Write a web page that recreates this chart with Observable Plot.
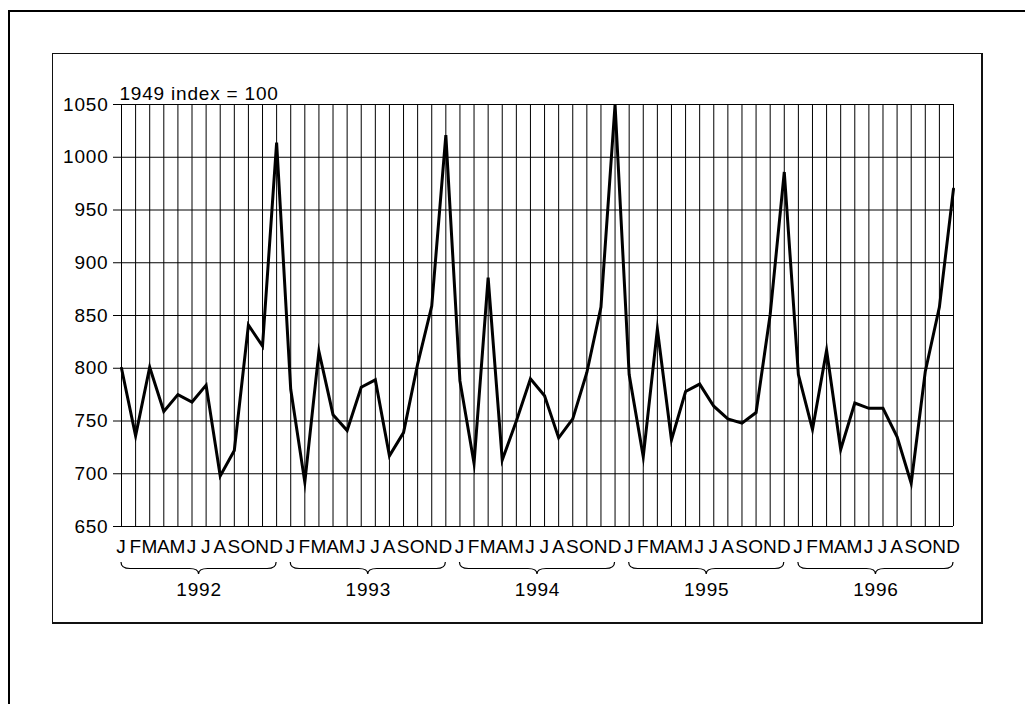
<!DOCTYPE html>
<html>
<head>
<meta charset="utf-8">
<script src="https://cdn.jsdelivr.net/npm/d3@7"></script>
<script src="https://cdn.jsdelivr.net/npm/@observablehq/plot@0.6"></script>
<style>
  html, body { margin: 0; padding: 0; width: 1025px; height: 704px; overflow: hidden; background: #fff; }
  #outer { position: absolute; left: 8px; top: 10px; width: 1100px; height: 800px; border: 2px solid #000; box-sizing: border-box; z-index: 2; pointer-events: none; }
  #inner { position: absolute; left: 52px; top: 53px; width: 931px; height: 571px; border-style: solid; border-color: #111; border-width: 1px 2px 2px 1px; box-sizing: border-box; z-index: 2; pointer-events: none; }
  #chart { position: absolute; left: 0; top: 0; z-index: 1; }
  #chart svg text { font-family: Arial, "Liberation Sans", sans-serif; font-size: 19px; letter-spacing: 0.8px; fill: #000; }
</style>
</head>
<body>
<div id="outer"></div>
<div id="inner"></div>
<div id="chart"></div>
<script>
const months = ["J","F","M","A","M","J","J","A","S","O","N","D"];
const years = [1992, 1993, 1994, 1995, 1996];
const values1992 = [800, 736, 801, 759, 775, 768, 784, 698, 722, 841, 821, 1014];
const values1993 = [780, 692, 816, 756, 741, 782, 789, 717, 739, 804, 859, 1021];
const values1994 = [788, 710, 886, 713, 750, 790, 774, 734, 752, 796, 858, 1050];
const values1995 = [794, 716, 837, 732, 778, 785, 764, 752, 748, 758, 851, 986];
const values1996 = [794, 742, 817, 723, 767, 762, 762, 735, 691, 797, 858, 970];
const yTicks = [650, 700, 750, 800, 850, 900, 950, 1000, 1050];
const unitLabel = "1949 index = 100";

const series = [values1992, values1993, values1994, values1995, values1996];
const data = years.flatMap((yr, yi) =>
  series[yi].map((v, m) => ({i: yi * 12 + m, month: months[m], year: yr, value: v})));
const monthIdx = data.map(d => d.i);
const lastIdx = monthIdx[monthIdx.length - 1];
const yearInfo = years.map((yr, yi) => ({year: yr, start: yi * 12, end: yi * 12 + 11, mid: yi * 12 + 5.5}));

function braces(index, scales, values, dimensions) {
  const x = scales.x;
  const yBase = dimensions.height - dimensions.marginBottom;
  const g = d3.create("svg:g")
    .attr("fill", "none").attr("stroke", "#000").attr("stroke-width", 1.2);
  const y0 = yBase + 36, y1 = yBase + 42.5, y2 = yBase + 48, r = 9;
  for (const yi of yearInfo) {
    const x0 = x(yi.start), x1 = x(yi.end), xm = x(yi.mid);
    g.append("path").attr("d",
      `M${x0},${y0} Q${x0},${y1} ${x0 + r},${y1} L${xm - r},${y1} Q${xm},${y1} ${xm},${y2} ` +
      `Q${xm},${y1} ${xm + r},${y1} L${x1 - r},${y1} Q${x1},${y1} ${x1},${y0}`);
  }
  return g.node();
}

const chart = Plot.plot({
  width: 1025,
  height: 704,
  marginLeft: 121,
  marginRight: 72,
  marginTop: 104,
  marginBottom: 178,
  style: {background: "transparent", overflow: "visible"},
  x: {
    type: "linear",
    domain: [0, lastIdx],
    ticks: monthIdx,
    tickFormat: i => months[i % 12],
    tickSize: 0,
    tickPadding: 13,
    label: null
  },
  y: {
    domain: [yTicks[0], yTicks[yTicks.length - 1]],
    ticks: yTicks,
    tickFormat: d => String(d),
    tickSize: 8,
    tickPadding: 5,
    label: null
  },
  marks: [
    Plot.ruleX(monthIdx, {y1: yTicks[0], y2: yTicks[yTicks.length - 1], stroke: "#000", strokeWidth: 1}),
    Plot.ruleY(yTicks, {x1: 0, x2: lastIdx, stroke: "#000", strokeWidth: 1}),
    Plot.line(data, {x: "i", y: "value", stroke: "#000", strokeWidth: 3, strokeLinejoin: "miter", strokeMiterlimit: 10}),
    Plot.text([unitLabel], {frameAnchor: "top-left", textAnchor: "start", lineAnchor: "bottom", dx: -2, dy: -5}),
    Plot.text(yearInfo, {x: "mid", y: yTicks[0], text: d => String(d.year), lineAnchor: "bottom", dy: 69}),
    braces
  ]
});
document.getElementById("chart").appendChild(chart);
</script>
</body>
</html>
